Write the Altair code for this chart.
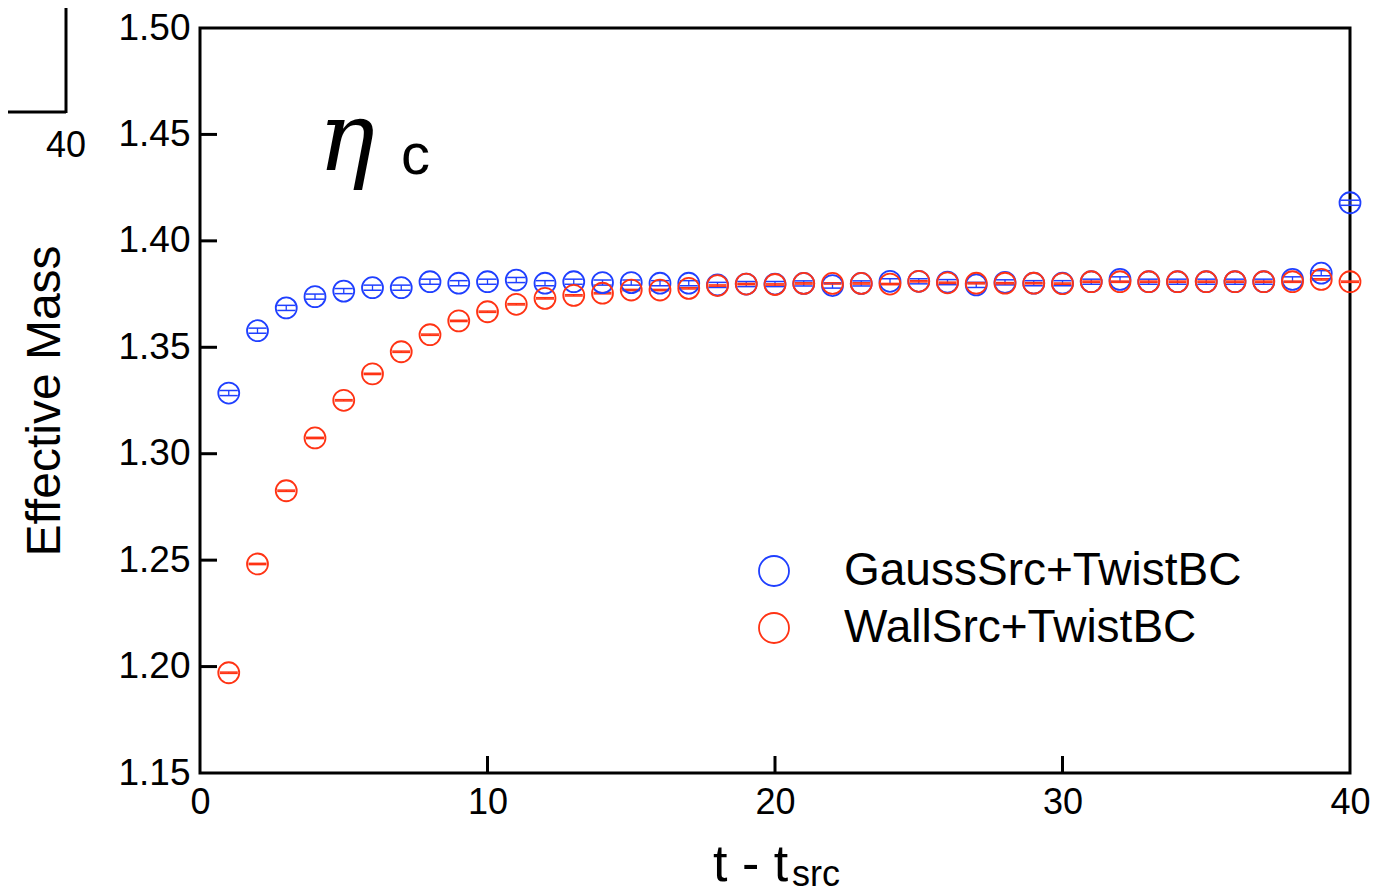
import altair as alt
import pandas as pd

t_vals = list(range(1, 41))
gauss_mass = [1.3285, 1.3578, 1.3685, 1.3738, 1.3764, 1.3780, 1.3780, 1.3808, 1.3801, 1.3808,
              1.3816, 1.3801, 1.3808, 1.3804, 1.3804, 1.3801, 1.3801, 1.3793, 1.3797, 1.3797,
              1.3800, 1.3790, 1.3800, 1.3810, 1.3810, 1.3806, 1.3793, 1.3805, 1.3801, 1.3801,
              1.3808, 1.3819, 1.3808, 1.3808, 1.3808, 1.3808, 1.3808, 1.3819, 1.3848, 1.4179]
wall_mass = [1.1971, 1.2482, 1.2826, 1.3074, 1.3251, 1.3375, 1.3479, 1.3559, 1.3624, 1.3667,
             1.3702, 1.3730, 1.3744, 1.3754, 1.3769, 1.3769, 1.3777, 1.3790, 1.3797, 1.3795,
             1.3800, 1.3800, 1.3800, 1.3797, 1.3810, 1.3803, 1.3801, 1.3801, 1.3801, 1.3799,
             1.3808, 1.3808, 1.3808, 1.3808, 1.3808, 1.3808, 1.3808, 1.3808, 1.3819, 1.3808]
gauss_err = [0.0012] * 40
wall_err = [0.0003] * 40

series_names = ["GaussSrc+TwistBC", "WallSrc+TwistBC"]
series_colors = ["#1f3fff", "#ff3314"]

y_ticks = [1.15, 1.20, 1.25, 1.30, 1.35, 1.40, 1.45, 1.50]
x_ticks = [0, 10, 20, 30, 40]
y_inner_ticks = [1.20, 1.25, 1.30, 1.35, 1.40, 1.45]
x_inner_ticks = [10, 20, 30]

rows = []
for s, ms, es in [(series_names[0], gauss_mass, gauss_err), (series_names[1], wall_mass, wall_err)]:
    for t, m, e in zip(t_vals, ms, es):
        rows.append({"t": t, "m": m, "lo": m - e, "hi": m + e, "series": s})
df = pd.DataFrame(rows)

W, H = 1150, 745
FONT = "Liberation Sans"

xs = alt.Scale(domain=[0, 40], nice=False, zero=False)
ys = alt.Scale(domain=[1.15, 1.50], nice=False, zero=False)
cs = alt.Scale(domain=series_names, range=series_colors)

leg = alt.Legend(
    title=None, orient="none", legendX=551, legendY=520, symbolType="circle",
    symbolSize=900, symbolStrokeWidth=1.8, symbolFillColor="transparent",
    labelFontSize=46, labelFont=FONT, labelColor="black", labelOffset=47,
    rowPadding=11, padding=0, labelLimit=600)
color_enc = alt.Color("series:N", scale=cs, legend=leg)

base = alt.Chart(df)

err_rule = base.mark_rule(strokeWidth=1.3).encode(
    x=alt.X("t:Q", scale=xs),
    y=alt.Y("lo:Q", scale=ys),
    y2="hi:Q",
    color=color_enc,
)
cap_lo = base.mark_rule(strokeWidth=1.5, xOffset=-9, x2Offset=9).encode(
    x=alt.X("t:Q", scale=xs),
    x2="t:Q",
    y=alt.Y("lo:Q", scale=ys),
    color=color_enc,
)
cap_hi = base.mark_rule(strokeWidth=1.5, xOffset=-9, x2Offset=9).encode(
    x=alt.X("t:Q", scale=xs),
    x2="t:Q",
    y=alt.Y("hi:Q", scale=ys),
    color=color_enc,
)
points = base.mark_point(shape="circle", filled=False, size=440, strokeWidth=1.8, opacity=1).encode(
    x=alt.X("t:Q", scale=xs,
            axis=alt.Axis(values=x_ticks, title=None, grid=False, domain=False, tickSize=0,
                          labelFontSize=36, labelFont=FONT, labelPadding=12, labelColor="black",
                          labelFlush=False)),
    y=alt.Y("m:Q", scale=ys,
            axis=alt.Axis(values=y_ticks, format=".2f", title="Effective Mass", grid=False,
                          domain=False, tickSize=0, labelFontSize=37, labelFont=FONT,
                          labelPadding=10, labelColor="black", titleFontSize=48,
                          titleFont=FONT, titleFontWeight="normal", titlePadding=48,
                          titleColor="black", labelFlush=False)),
    color=color_enc,
)

ytick_df = pd.DataFrame({"v": y_inner_ticks})
ytick_rules = alt.Chart(ytick_df).mark_rule(color="black", strokeWidth=3).encode(
    y=alt.Y("v:Q", scale=ys), x=alt.value(0), x2=alt.value(17))
xtick_df = pd.DataFrame({"v": x_inner_ticks})
xtick_rules = alt.Chart(xtick_df).mark_rule(color="black", strokeWidth=3).encode(
    x=alt.X("v:Q", scale=xs), y=alt.value(H), y2=alt.value(H - 17))

ann = pd.DataFrame({"a": [0]})
eta = alt.Chart(ann).mark_text(text="η", font="DejaVu Serif", fontStyle="italic", fontSize=95,
                               align="left", baseline="alphabetic", color="black").encode(
    x=alt.value(118), y=alt.value(142))
c_txt = alt.Chart(ann).mark_text(text="c", font=FONT, fontSize=58, align="left",
                                 baseline="alphabetic", color="black").encode(
    x=alt.value(201), y=alt.value(146))
xt1 = alt.Chart(ann).mark_text(text="t - t", font=FONT, fontSize=52, align="left",
                               baseline="alphabetic", color="black").encode(
    x=alt.value(513), y=alt.value(853))
xt2 = alt.Chart(ann).mark_text(text="src", font=FONT, fontSize=36, align="left",
                               baseline="alphabetic", color="black").encode(
    x=alt.value(592), y=alt.value(858))

# fragment of neighbouring panel at top-left
frag_v = alt.Chart(ann).mark_rule(color="black", strokeWidth=3).encode(
    x=alt.value(-134), y=alt.value(-30), y2=alt.value(85))
frag_h = alt.Chart(ann).mark_rule(color="black", strokeWidth=3).encode(
    x=alt.value(-200), x2=alt.value(-134), y=alt.value(84))
frag_t = alt.Chart(ann).mark_text(text="40", font=FONT, fontSize=36, align="center",
                                  baseline="alphabetic", color="black").encode(
    x=alt.value(-134), y=alt.value(129))

chart = alt.layer(
    ytick_rules, xtick_rules, err_rule, cap_lo, cap_hi, points,
    eta, c_txt, xt1, xt2, frag_v, frag_h, frag_t
).properties(
    width=W, height=H,
    autosize=alt.AutoSizeParams(type="none"),
    padding={"left": 192, "top": 20, "right": 40, "bottom": 123},
).configure_view(
    stroke="black", strokeWidth=3
)

chart.save("out.html", embed_options={"renderer": "svg", "actions": False})
